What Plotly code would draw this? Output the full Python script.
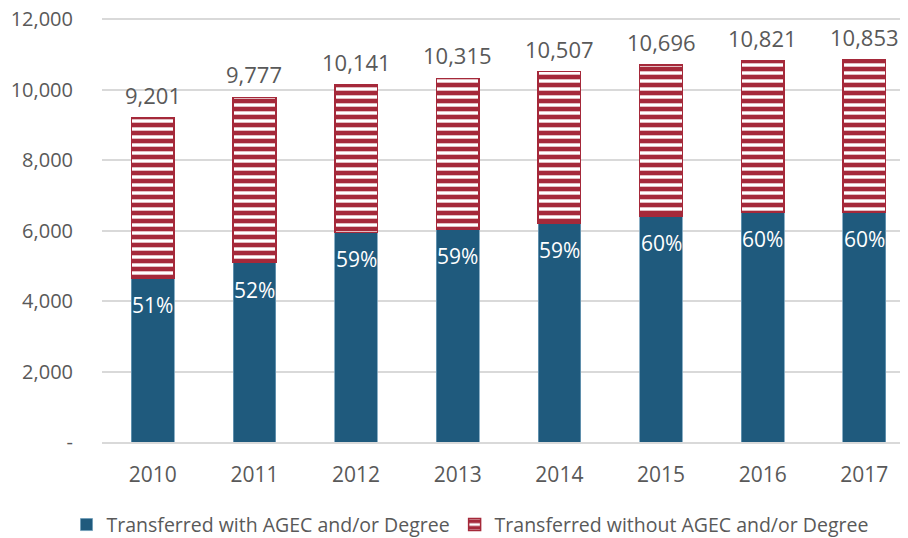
import plotly.graph_objects as go

years = ["2010", "2011", "2012", "2013", "2014", "2015", "2016", "2017"]
totals = [9201, 9777, 10141, 10315, 10507, 10696, 10821, 10853]
with_agec = [4650, 5087, 5950, 6045, 6204, 6420, 6530, 6525]
pct_labels = ["51%", "52%", "59%", "59%", "59%", "60%", "60%", "60%"]
without_agec = [t - w for t, w in zip(totals, with_agec)]

tick_vals = [0, 2000, 4000, 6000, 8000, 10000, 12000]
tick_text = ["-", "2,000", "4,000", "6,000", "8,000", "10,000", "12,000"]

BLUE = "#1F5A7D"
RED = "#A5293A"
GRAY = "#595959"
FONT = "Open Sans"

fig = go.Figure()
fig.add_trace(go.Bar(
    x=years, y=with_agec, name="Transferred with AGEC and/or Degree",
    marker=dict(color=BLUE, line=dict(color="#6F9CB8", width=0.8)),
))
fig.add_trace(go.Bar(
    x=years, y=without_agec, name="Transferred without AGEC and/or Degree",
    marker=dict(color=RED, line=dict(color=RED, width=1.5),
                pattern=dict(shape="-", fgcolor=RED, bgcolor="white",
                             size=8, solidity=0.58, fillmode="replace")),
))

for i, t in enumerate(totals):
    fig.add_annotation(x=i, y=t, xref="x", yref="y", text=f"{t:,}",
                       showarrow=False, yanchor="bottom", yshift=6,
                       font=dict(family=FONT, size=22, color=GRAY))
for i, (w, p) in enumerate(zip(with_agec, pct_labels)):
    fig.add_annotation(x=i, y=w, xref="x", yref="y", text=p,
                       showarrow=False, yanchor="middle", yshift=-27,
                       font=dict(family=FONT, size=21, color="white"))

fig.update_layout(
    width=908, height=538,
    barmode="stack", bargap=0.58,
    plot_bgcolor="white", paper_bgcolor="white",
    margin=dict(l=94, r=8, t=9, b=104, autoexpand=False),
    font=dict(family=FONT, size=21, color=GRAY),
    showlegend=True,
    legend=dict(orientation="h", x=0.4566, xanchor="center",
                y=-0.195, yanchor="middle", traceorder="normal",
                font=dict(family=FONT, size=19.5, color=GRAY),
                itemwidth=30),
)
fig.update_xaxes(type="category", range=[-0.5, 7.43], showgrid=False,
                 showline=True, linecolor="#D9D9D9", linewidth=1.5, ticks="",
                 ticklabelstandoff=13,
                 tickfont=dict(family=FONT, size=21, color=GRAY))
fig.update_yaxes(range=[0, 12060], tickvals=tick_vals, ticktext=tick_text,
                 showgrid=True, gridcolor="#D9D9D9", gridwidth=1.5,
                 zeroline=False, showline=False, ticks="",
                 ticklabelstandoff=28, ticklabeloverflow="allow",
                 tickfont=dict(family=FONT, size=20, color=GRAY))

fig.write_html("out.html")
